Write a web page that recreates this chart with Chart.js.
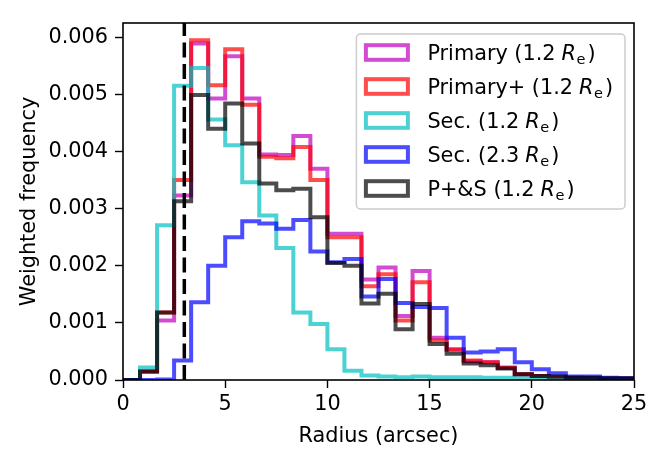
<!DOCTYPE html>
<html>
<head>
<meta charset="utf-8">
<script src="https://cdn.jsdelivr.net/npm/chart.js@4.4.1/dist/chart.umd.min.js"></script>
<style>
  html, body { margin: 0; padding: 0; background: #fff; }
  #wrap { width: 665px; height: 462px; }
</style>
</head>
<body>
<div id="wrap"><canvas id="radiusHist"></canvas></div>
<script>
// histogram: 30 equal bins between 0 and 25 arcsec
const binCount = 30;
const radiusMax = 25;
const cutRadius = 3;

const xTicks = [0, 5, 10, 15, 20, 25];
const yTicks = [0, 0.001, 0.002, 0.003, 0.004, 0.005, 0.006];

// bin heights, in units of 1e-3
const primary = [0, 0.15, 1.04, 3.23, 5.89, 4.93, 5.67, 4.93, 3.95, 3.94, 4.27, 3.70, 2.56, 2.56, 1.76,
    1.97, 1.12, 1.91, 0.74, 0.54, 0.33, 0.31, 0.21, 0.10, 0.07, 0.05, 0.04, 0.03, 0.02, 0.02];
const primaryPlus = [0, 0.15, 1.18, 3.50, 5.95, 5.16, 5.79, 4.82, 3.91, 3.88, 4.08, 3.50, 2.50, 2.50, 1.64,
    1.85, 1.04, 1.71, 0.69, 0.53, 0.34, 0.31, 0.22, 0.10, 0.07, 0.05, 0.04, 0.03, 0.02, 0.02];
const secondary = [0, 0.22, 2.71, 5.15, 5.46, 4.56, 4.11, 3.46, 2.88, 2.31, 1.18, 0.98, 0.54, 0.16, 0.08,
    0.06, 0.05, 0.06, 0.05, 0.05, 0.05, 0.04, 0.04, 0.03, 0.03, 0.02, 0.02, 0.02, 0.01, 0.01];
const secondaryWide = [0, 0, 0.01, 0.34, 1.36, 2.00, 2.50, 2.78, 2.74, 2.65, 2.80, 2.25, 2.06, 2.12, 1.46,
    1.77, 1.35, 1.28, 1.26, 0.74, 0.48, 0.50, 0.54, 0.31, 0.19, 0.12, 0.06, 0.06, 0.04, 0.03];
const combined = [0, 0.15, 1.18, 3.13, 4.99, 4.40, 4.84, 4.14, 3.44, 3.32, 3.35, 2.85, 2.05, 2.00, 1.34,
    1.51, 0.89, 1.33, 0.63, 0.46, 0.29, 0.26, 0.20, 0.10, 0.07, 0.06, 0.04, 0.04, 0.03, 0.03];

const seriesNames = ['Primary', 'Primary+', 'Sec.', 'Sec.', 'P+&S'];
const seriesRadii = ['1.2', '1.2', '1.2', '2.3', '1.2'];
const seriesColors = ['rgba(191,0,191,0.7)', 'rgba(255,0,0,0.7)', 'rgba(0,191,191,0.7)',
    'rgba(0,0,255,0.7)', 'rgba(0,0,0,0.7)'];

const FONT = 'DejaVu Sans';
const FSIZE = 20.8;
const LW = 4;

const binWidth = radiusMax / binCount;

// one point per left bin edge, plus the closing right edge
function histPoints(values) {
    const pts = values.map((v, i) => ({ x: i * binWidth, y: v / 1000 }));
    pts.push({ x: radiusMax, y: values[values.length - 1] / 1000 });
    pts.push({ x: radiusMax, y: 0 });
    return pts;
}

const allSeries = [primary, primaryPlus, secondary, secondaryWide, combined];

const datasets = allSeries.map((vals, i) => ({
    label: seriesNames[i] + ' (' + seriesRadii[i] + ' Re)',
    data: histPoints(vals),
    borderColor: seriesColors[i],
    borderWidth: LW,
    stepped: 'before',
    pointRadius: 0,
    fill: false,
    borderJoinStyle: 'miter',
    order: allSeries.length - i
}));

// dashed line + axes frame on top of the histograms
const overlays = {
    id: 'overlays',
    afterDatasetsDraw(chart) {
        const { ctx, chartArea: { left, right, top, bottom } } = chart;
        const x = chart.scales.x.getPixelForValue(cutRadius);
        ctx.save();
        ctx.strokeStyle = '#000';
        ctx.lineWidth = 3.5;
        ctx.setLineDash([15, 6.5]);
        ctx.beginPath();
        ctx.moveTo(x, bottom);
        ctx.lineTo(x, top);
        ctx.stroke();
        ctx.setLineDash([]);
        ctx.lineWidth = 1.6;
        ctx.strokeRect(left, top, right - left, bottom - top);
        ctx.restore();
    }
};

// legend with italic R and subscript e
const mathLegend = {
    id: 'mathLegend',
    afterDraw(chart) {
        const { ctx, chartArea } = chart;
        const normal = FSIZE + 'px "' + FONT + '"';
        const italic = 'italic ' + normal;
        const small = (FSIZE * 0.7) + 'px "' + FONT + '"';
        const thin = 6;
        ctx.save();

        const parts = seriesNames.map((n, i) => {
            ctx.font = normal;
            const a = n + ' (' + seriesRadii[i];
            const wa = ctx.measureText(a).width;
            ctx.font = italic;
            const wr = ctx.measureText('R').width + 0.5;
            ctx.font = small;
            const we = ctx.measureText('e').width + 2;
            ctx.font = normal;
            const wc = ctx.measureText(')').width;
            return { a, wa, wr, we, wc, total: wa + thin + wr + we + wc };
        });
        const textW = Math.max(...parts.map(p => p.total));

        const right = chartArea.right - 9;
        const top = chartArea.top + 11;
        const width = 7 + 47 + 17 + textW + 12;
        const left = right - width;
        const rowH = 34;
        const height = 18.5 + rowH * (seriesNames.length - 1) + 20.5;

        ctx.fillStyle = 'rgba(255,255,255,0.8)';
        ctx.strokeStyle = '#cccccc';
        ctx.lineWidth = 1.5;
        ctx.beginPath();
        ctx.roundRect(left, top, width, height, 4);
        ctx.fill();
        ctx.stroke();

        parts.forEach((p, i) => {
            const cy = top + 18.5 + i * rowH;
            ctx.strokeStyle = seriesColors[i];
            ctx.lineWidth = LW;
            ctx.strokeRect(left + 9.5, cy - 7.3, 42, 14.6);

            const base = cy + 7.7;
            let x = left + 71;
            ctx.fillStyle = '#000';
            ctx.textBaseline = 'alphabetic';
            ctx.textAlign = 'left';
            ctx.font = normal;
            ctx.fillText(p.a, x, base);
            x += p.wa + thin;
            ctx.font = italic;
            ctx.fillText('R', x, base);
            x += p.wr;
            ctx.font = small;
            ctx.fillText('e', x, base + 4);
            x += p.we;
            ctx.font = normal;
            ctx.fillText(')', x, base);
        });
        ctx.restore();
    }
};

Chart.defaults.font.family = FONT;
Chart.defaults.font.size = FSIZE;
Chart.defaults.color = '#000';

new Chart(document.getElementById('radiusHist'), {
    type: 'line',
    data: { datasets: datasets },
    options: {
        responsive: true,
        maintainAspectRatio: false,
        animation: false,
        events: [],
        layout: { padding: { top: 23, right: 31, left: 0, bottom: 0 } },
        plugins: {
            legend: { display: false },
            tooltip: { enabled: false }
        },
        scales: {
            x: {
                type: 'linear',
                min: 0,
                max: radiusMax,
                afterBuildTicks: (scale) => { scale.ticks = xTicks.map(v => ({ value: v })); },
                afterFit: (scale) => { scale.height = 82; },
                ticks: { padding: 4, maxRotation: 0 },
                grid: { drawOnChartArea: false, tickLength: 8, tickColor: '#000', tickWidth: 1.4 },
                border: { display: false },
                title: { display: true, text: 'Radius (arcsec)', padding: 13 }
            },
            y: {
                type: 'linear',
                min: 0,
                max: 0.00625,
                afterBuildTicks: (scale) => { scale.ticks = yTicks.map(v => ({ value: v })); },
                afterFit: (scale) => { scale.width = 123; },
                ticks: { padding: 7, callback: (v) => v.toFixed(3) },
                grid: { drawOnChartArea: false, tickLength: 8, tickColor: '#000', tickWidth: 1.4 },
                border: { display: false },
                title: { display: true, text: 'Weighted frequency', padding: 17 }
            }
        }
    },
    plugins: [overlays, mathLegend]
});
</script>
</body>
</html>
